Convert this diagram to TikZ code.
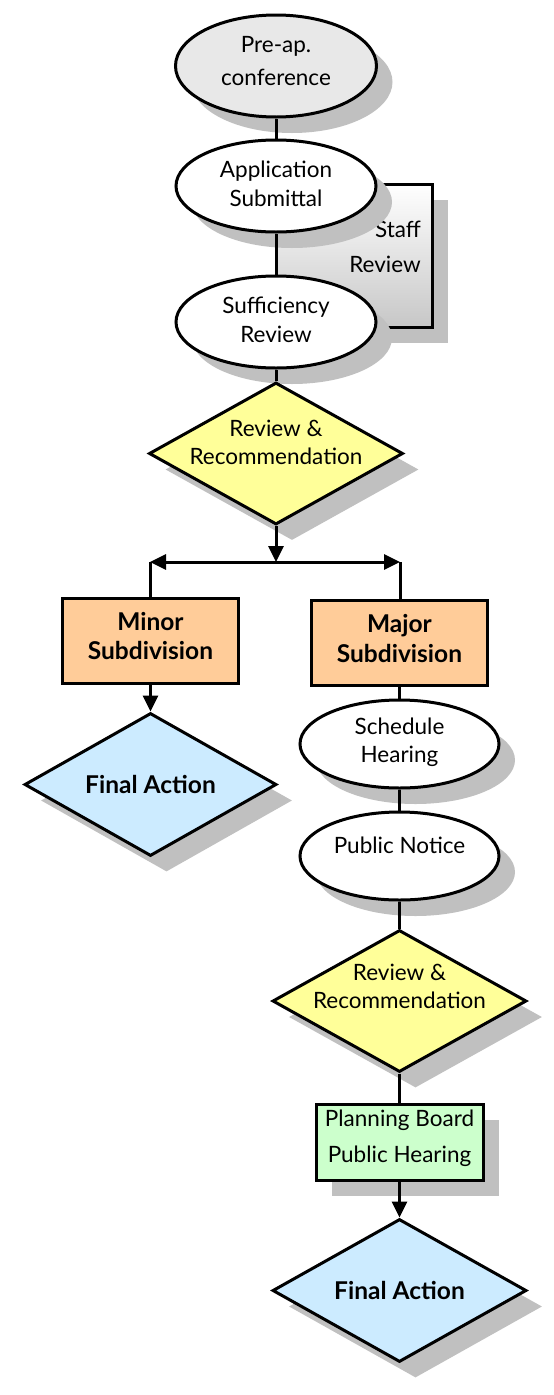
\documentclass[tikz,border=0pt]{standalone}
\usepackage{fontspec}
\setmainfont{Lato}
\usetikzlibrary{shapes.geometric,shadows,arrows.meta}
\definecolor{shd}{HTML}{C0C0C0}
\definecolor{preg}{HTML}{E8E8E8}
\definecolor{yel}{HTML}{FFFF99}
\definecolor{orng}{HTML}{FFCC99}
\definecolor{lblue}{HTML}{CCEBFF}
\definecolor{lgreen}{HTML}{CCFFCC}
\tikzset{
  shadowed/.style={drop shadow={shadow xshift=16pt,shadow yshift=-16pt,fill=shd,opacity=1}},
  ell/.style={ellipse,draw,line width=3pt,minimum width=200pt,minimum height=92pt,inner sep=0pt,fill=white,shadowed},
  dia/.style={diamond,draw,line width=3pt,minimum width=254pt,minimum height=142pt,inner sep=0pt,shadowed},
  obox/.style={rectangle,draw,line width=3pt,fill=orng,minimum width=176pt,minimum height=85pt,inner sep=0pt},
  txt/.style={font=\fontsize{22.5}{28.5}\selectfont,align=center,inner sep=0pt},
  btxt/.style={txt,font=\fontsize{24.5}{29.5}\selectfont\bfseries},
  conn/.style={line width=3pt},
  arr/.style={conn,-{Triangle[length=16pt,width=15pt]}}
}
\begin{document}
\begin{tikzpicture}[x=1pt,y=-1pt]
\useasboundingbox (0,0) rectangle (554,1395);
% staff review box
\node[rectangle,draw,line width=3pt,top color=white,bottom color=black!22,minimum width=156pt,minimum height=143pt,inner sep=0pt,shadowed] (staff) at (354,255.5) {};
\node[txt,align=right,anchor=east,font=\fontsize{22.5}{35}\selectfont] (stafft) at (421,246.5) {Staff\\Review};
% nodes
\node[ell,fill=preg,minimum width=201pt,minimum height=102pt] (pre) at (276,66) {};
\node[ell] (app) at (276,186) {};
\node[ell] (suf) at (276,322) {};
\node[dia,fill=yel] (rr1) at (276,453.5) {};
\node[obox] (minor) at (150.5,640.5) {};
\node[obox] (major) at (399.5,642.5) {};
\node[dia,fill=lblue,minimum width=252pt,minimum height=143pt] (fa1) at (150.5,784.5) {};
\node[ell,minimum width=199pt,minimum height=88pt] (sched) at (399.5,744) {};
\node[ell,minimum width=199pt,minimum height=88pt] (pub) at (399.5,856) {};
\node[dia,fill=yel] (rr2) at (399.5,1001) {};
\node[rectangle,draw,line width=3pt,fill=lgreen,minimum width=167pt,minimum height=76pt,inner sep=0pt,shadowed] (pb) at (399.5,1142) {};
\node[dia,fill=lblue,minimum height=143pt] (fa2) at (399.5,1290.5) {};
% texts
\node[txt,font=\fontsize{22.5}{33}\selectfont] (pret) at (276,61.5) {Pre-ap.\\conference};
\node[txt] (appt) at (276,184) {Application\\Submittal};
\node[txt] (suft) at (276,320) {Sufficiency\\Review};
\node[txt] (rr1t) at (276,442.5) {Review \&\\Recommendation};
\node[btxt] (minort) at (150.5,636) {Minor\\Subdivision};
\node[btxt] (majort) at (399.5,638.5) {Major\\Subdivision};
\node[btxt] (fa1t) at (150.5,784) {Final Action};
\node[txt] (schedt) at (399.5,742.5) {Schedule\\Hearing};
\node[txt] (pubt) at (399.5,845) {Public Notice};
\node[txt] (rr2t) at (399.5,986.5) {Review \&\\Recommendation};
\node[txt,font=\fontsize{22.5}{36}\selectfont] (pbt) at (399.5,1138) {Planning Board\\Public Hearing};
\node[btxt] (fa2t) at (399.5,1290) {Final Action};
% connectors
\coordinate (split) at (276,562);
\draw[conn] (pre.south) -- (app.north);
\draw[conn] (app.south) -- (suf.north);
\draw[conn] (suf.south) -- (rr1.north);
\draw[arr] (rr1.south) -- (split);
\draw[arr] (split) -- (150,562) coordinate (lsplit);
\draw[arr] (split) -- (400,562) coordinate (rsplit);
\draw[conn] (lsplit) -- (lsplit |- minor.north);
\draw[conn] (rsplit) -- (rsplit |- major.north);
\draw[arr] (minor.south) -- (fa1.north);
\draw[conn] (major.south) -- (sched.north);
\draw[conn] (sched.south) -- (pub.north);
\draw[conn] (pub.south) -- (rr2.north);
\draw[conn] (rr2.south) -- (pb.north);
\draw[arr] (pb.south) -- (fa2.north);
\end{tikzpicture}
\end{document}
